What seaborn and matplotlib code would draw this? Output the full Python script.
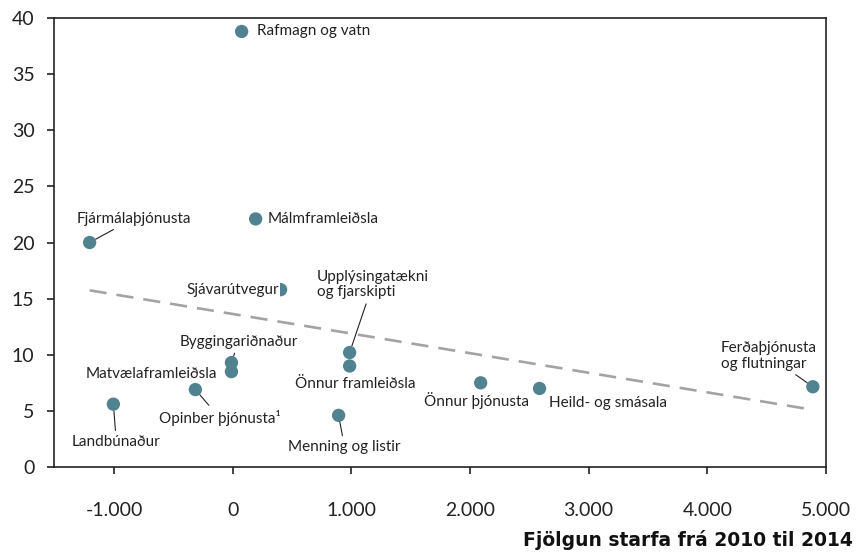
import numpy as np
import pandas as pd
import seaborn as sns
import matplotlib.pyplot as plt
from matplotlib.ticker import FuncFormatter

# Atvinnugreinar, fjölgun starfa 2010-2014 og gildi á y-ás
greinar = ["Rafmagn og vatn", "Fjármálaþjónusta", "Málmframleiðsla", "Sjávarútvegur",
           "Upplýsingatækni\nog fjarskipti", "Önnur framleiðsla", "Byggingariðnaður",
           "Matvælaframleiðsla", "Opinber þjónusta¹", "Landbúnaður", "Menning og listir",
           "Önnur þjónusta", "Heild- og smásala", "Ferðaþjónusta\nog flutningar"]
fjolgun = [76, -1205, 194, 404, 986, 986, -10, -10, -314, -1005, 893, 2090, 2586, 4889]
gildi = [38.8, 20.0, 22.1, 15.8, 10.2, 9.0, 9.3, 8.5, 6.9, 5.6, 4.6, 7.5, 7.0, 7.15]

x_ticks = [-1000, 0, 1000, 2000, 3000, 4000, 5000]
y_ticks = [0, 5, 10, 15, 20, 25, 30, 35, 40]

df = pd.DataFrame({"grein": greinar, "x": fjolgun, "y": gildi})

# staðsetning merkja (pixlar frá punkti), jöfnun, leiðarlína
merki = {
    "Rafmagn og vatn": ((15, 0), "left", False),
    "Fjármálaþjónusta": ((44, 24), "center", True),
    "Málmframleiðsla": ((12, 0), "left", False),
    "Sjávarútvegur": ((-1, 0), "right", False),
    "Upplýsingatækni\nog fjarskipti": ((-33, 68), "left", True),
    "Önnur framleiðsla": ((6, -18), "center", False),
    "Byggingariðnaður": ((7, 21), "center", True),
    "Matvælaframleiðsla": ((-14, -2), "right", False),
    "Opinber þjónusta¹": ((24, -28), "center", True),
    "Landbúnaður": ((3, -38), "center", True),
    "Menning og listir": ((6, -32), "center", True),
    "Önnur þjónusta": ((-4, -18), "center", False),
    "Heild- og smásala": ((9, -15), "left", False),
    "Ferðaþjónusta\nog flutningar": ((-92, 31), "left", True),
}

sns.set_style("white")
plt.rcParams["font.family"] = ["Lato", "DejaVu Sans"]

fig = plt.figure(figsize=(8.59, 5.54), dpi=100)
ax = fig.add_axes([0.0629, 0.157, 0.8987, 0.8105])

litur = "#50838f"

sns.regplot(data=df, x="x", y="y", scatter=False, ci=None, truncate=True, ax=ax,
            line_kws=dict(color="#a3a3a3", lw=1.9, linestyle=(0, (6.5, 3.8)), zorder=1))
sns.scatterplot(data=df, x="x", y="y", ax=ax, color=litur, s=92, edgecolor="none",
                zorder=2, legend=False)

for grein, xv, yv in zip(greinar, fjolgun, gildi):
    (dx, dy), ha, lina = merki[grein]
    kw = dict(textcoords="offset pixels", ha=ha, va="center", fontsize=11,
              color="#222222", zorder=4, linespacing=1.15)
    if lina:
        kw["arrowprops"] = dict(arrowstyle="-", color="#222222", lw=0.8,
                                shrinkA=1, shrinkB=5)
    if grein == "Sjávarútvegur":
        kw["bbox"] = dict(boxstyle="square,pad=0.05", fc="white", ec="none")
    ax.annotate(grein, (xv, yv), xytext=(dx, dy), **kw)

ax.set_xlim(-1505, 5000)
ax.set_ylim(0, 40)
ax.set_xticks(x_ticks)
ax.set_yticks(y_ticks)
ax.xaxis.set_major_formatter(FuncFormatter(lambda v, p: f"{int(v):,}".replace(",", ".")))
ax.set_xlabel("")
ax.set_ylabel("")

for s in ax.spines.values():
    s.set_visible(True)
    s.set_color("#222222")
    s.set_linewidth(1.2)

ax.tick_params(axis="both", direction="out", length=5, width=1.2, color="#222222",
               labelsize=14, labelcolor="#222222", left=True, bottom=True)
ax.tick_params(axis="x", pad=20)
ax.tick_params(axis="y", pad=9)

fig.text(853 / 859, 1 - 540 / 554, "Fjölgun starfa frá 2010 til 2014", ha="right",
         va="center", fontsize=13.5, fontweight="bold", color="#111111",
         family="DejaVu Sans")

fig.savefig("out.png", dpi=100)
